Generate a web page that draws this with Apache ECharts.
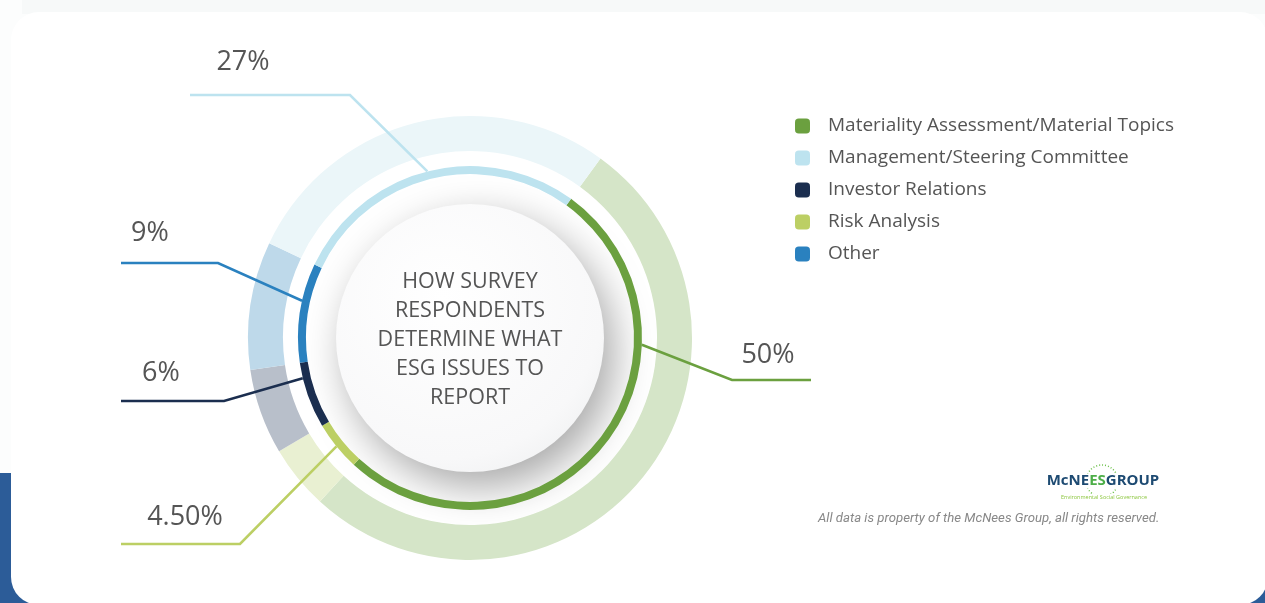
<!DOCTYPE html>
<html>
<head>
<meta charset="utf-8">
<script src="https://cdn.jsdelivr.net/npm/echarts@6/dist/echarts.min.js"></script>
<style>
html,body{margin:0;padding:0;width:1265px;height:603px;overflow:hidden;background:#fcfdfd;}
#top{position:absolute;left:22px;top:0;width:1243px;height:14px;background:#f7f9f9;}
#bl{position:absolute;left:0;top:473px;width:60px;height:130px;background:#2c5c98;}
#br{position:absolute;right:0;bottom:0;width:60px;height:60px;background:#2c5c98;}
#card{position:absolute;left:11px;top:12px;width:1257px;height:593px;background:#fff;border-radius:28px;}
#chart{position:absolute;left:0;top:0;width:1265px;height:603px;}
</style>
</head>
<body>
<div id="top"></div><div id="bl"></div><div id="br"></div><div id="card"></div>
<div id="chart"></div>
<script>
// ---- data (clockwise order around the ring) ----
const categories = ['Materiality Assessment/Material Topics', 'Risk Analysis', 'Investor Relations', 'Other', 'Management/Steering Committee'];
const values = [50, 4.5, 6, 9, 27];
const valueLabels = ['50%', '4.50%', '6%', '9%', '27%'];
const legendOrder = ['Materiality Assessment/Material Topics', 'Management/Steering Committee', 'Investor Relations', 'Risk Analysis', 'Other'];
const centerTitle = ['HOW SURVEY', 'RESPONDENTS', 'DETERMINE WHAT', 'ESG ISSUES TO', 'REPORT'];
const footnote = 'All data is property of the McNees Group, all rights reserved.';

// ---- styles / layout ----
const innerColors = ['#6ba03f', '#bccf64', '#1b2e4f', '#2a81bf', '#bde3ef'];
const outerColors = ['#d5e5c8', '#e9f0d2', '#b8bfca', '#bed9ea', '#ebf6f9'];
const CX = 470, CY = 338;
const START = 54;
// leader-line placement for each slice label: horizontal rule height, bend x, far end x,
// text centre x, lift of text above the rule, and turn (deg) of the anchor along the ring
const labelSpots = [
  { lineY: 380, bendX: 732, endX: 811, textX: 768, lift: 25, turn: -37 },
  { lineY: 544, bendX: 240, endX: 121, textX: 185, lift: 27, turn: 0 },
  { lineY: 401, bendX: 224, endX: 121, textX: 161, lift: 28, turn: 6 },
  { lineY: 263, bendX: 218, endX: 121, textX: 150, lift: 30, turn: 4 },
  { lineY: 95,  bendX: 350, endX: 190, textX: 243, lift: 33, turn: 0 }
];

function turnPoint(pt, deg) {
  const a = deg * Math.PI / 180;
  const dx = pt[0] - CX, dy = pt[1] - CY;
  return [CX + dx * Math.cos(a) - dy * Math.sin(a), CY + dx * Math.sin(a) + dy * Math.cos(a)];
}

const chart = echarts.init(document.getElementById('chart'));

const innerData = categories.map((c, i) => ({ name: c, value: values[i], itemStyle: { color: innerColors[i] } }));
const outerData = categories.map((c, i) => ({ name: c, value: values[i], itemStyle: { color: outerColors[i] } }));

chart.setOption({
  animation: false,
  backgroundColor: 'transparent',
  legend: {
    orient: 'vertical',
    left: 795,
    top: 116,
    padding: 0,
    itemWidth: 15,
    itemHeight: 15,
    itemGap: 12,
    icon: 'roundRect',
    data: legendOrder,
    textStyle: { fontFamily: 'Open Sans', fontSize: 19, color: '#555', lineHeight: 20, padding: [0, 0, 0, 13] }
  },
  graphic: [
    {
      type: 'circle', z: 0, silent: true,
      shape: { cx: CX, cy: CY, r: 134 },
      style: {
        fill: new echarts.graphic.RadialGradient(0.4, 0.35, 0.75, [
          { offset: 0, color: '#ffffff' },
          { offset: 0.8, color: '#f8f8f9' },
          { offset: 1, color: '#f0f1f2' }
        ]),
        shadowBlur: 40, shadowOffsetX: 10, shadowOffsetY: 15, shadowColor: 'rgba(0,0,0,0.34)'
      }
    },
    {
      type: 'text', z: 10, silent: true,
      style: {
        x: CX, y: CY + 2, align: 'center', verticalAlign: 'middle',
        text: centerTitle.join('\n'),
        fontFamily: 'Open Sans', fontSize: 21.5, fontWeight: 500, lineHeight: 29, fill: '#555'
      }
    },
    {
      type: 'circle', z: 10, silent: true,
      shape: { cx: 1102, cy: 481, r: 16 },
      style: { fill: null, stroke: '#6cc04a', lineWidth: 1.5, lineDash: [1, 2] }
    },
    {
      type: 'text', z: 11, silent: true,
      style: {
        x: 1103, y: 481, align: 'center', verticalAlign: 'middle',
        text: '{a|McNE}{b|ES}{a|GROUP}',
        rich: {
          a: { fontFamily: 'Open Sans', fontWeight: 'bold', fontSize: 15, fill: '#1d4a72', backgroundColor: '#fff' },
          b: { fontFamily: 'Open Sans', fontWeight: 'bold', fontSize: 15, fill: '#4dae48' }
        }
      }
    },
    {
      type: 'text', z: 11, silent: true,
      style: {
        x: 1104, y: 497, align: 'center', verticalAlign: 'middle',
        text: 'Environmental Social Governance',
        fontFamily: 'Open Sans', fontSize: 5.5, fill: '#8cc63f', backgroundColor: '#fff'
      }
    },
    {
      type: 'text', z: 11, silent: true,
      style: {
        x: 818, y: 519, align: 'left', verticalAlign: 'middle',
        text: footnote,
        fontFamily: 'Roboto', fontStyle: 'italic', fontSize: 13.2, fill: '#888'
      }
    }
  ],
  series: [
    {
      name: 'inner',
      type: 'pie',
      z: 4,
      center: [CX, CY],
      radius: [164, 172],
      startAngle: START,
      clockwise: true,
      avoidLabelOverlap: false,
      data: innerData,
      label: {
        show: true,
        position: 'outside',
        formatter: p => valueLabels[p.dataIndex],
        fontFamily: 'Open Sans',
        fontSize: 27,
        fontWeight: 500,
        color: '#555'
      },
      labelLine: { show: true, length: 40, length2: 40, smooth: false, lineStyle: { width: 2.6 } },
      labelLayout: function (p) {
        const s = labelSpots[p.dataIndex];
        const start = p.labelLinePoints ? turnPoint(p.labelLinePoints[0], s.turn) : [s.bendX, s.lineY];
        return {
          x: s.textX,
          y: s.lineY - s.lift,
          align: 'center',
          verticalAlign: 'middle',
          labelLinePoints: [start, [s.bendX, s.lineY], [s.endX, s.lineY]]
        };
      },
      emphasis: { scale: false }
    },
    {
      name: 'outer',
      type: 'pie',
      z: 2,
      center: [CX, CY],
      radius: [187, 222],
      startAngle: START,
      clockwise: true,
      data: outerData,
      label: { show: false },
      labelLine: { show: false },
      emphasis: { scale: false }
    }
  ]
});
</script>
</body>
</html>
